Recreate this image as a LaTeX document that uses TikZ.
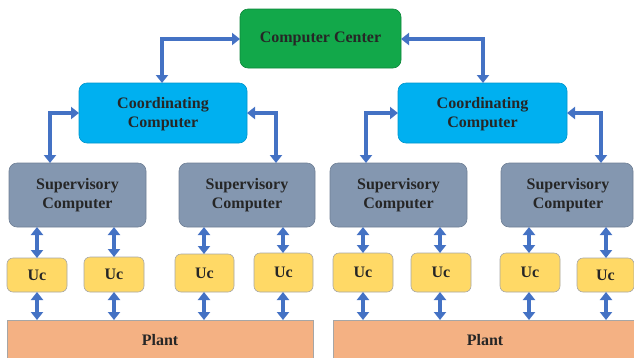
\documentclass[tikz,border=0pt]{standalone}
\usepackage{fontspec}
\setmainfont{Liberation Serif}[BoldFont={Liberation Serif Bold}]
\usetikzlibrary{arrows.meta}
\definecolor{ccgreen}{HTML}{12A84A}
\definecolor{coordblue}{HTML}{00B0F0}
\definecolor{supgray}{HTML}{8497B0}
\definecolor{ucyellow}{HTML}{FFD966}
\definecolor{plantorange}{HTML}{F4B183}
\definecolor{arrowblue}{HTML}{4472C4}
\definecolor{txt}{HTML}{262626}
\begin{document}
\begin{tikzpicture}[x=1pt,y=-1pt,
  box/.style={rounded corners=8pt, line width=0.6pt},
  lbl/.style={text=txt, font=\fontsize{16}{19.5}\selectfont\bfseries, align=center},
  link/.style={arrowblue, line width=3.6pt, {Triangle[length=8pt,width=12pt]}-{Triangle[length=8pt,width=12pt]}},
]
\useasboundingbox (0,0) rectangle (634,357);
% Computer center
\draw[box, fill=ccgreen, draw=ccgreen!80!black] (240,9) rectangle (401,68);
\node[lbl] (cc) at (320.5,39) {Computer Center};
\coordinate (ccW) at (240,39);
\coordinate (ccE) at (401,39);
% Coordinating
\draw[box, fill=coordblue, draw=coordblue!85!black] (79,83) rectangle (247,143);
\node[lbl] (co1) at (163,114) {Coordinating\\Computer};
\draw[box, fill=coordblue, draw=coordblue!85!black] (398,83) rectangle (567,143);
\node[lbl] (co2) at (482.5,114) {Coordinating\\Computer};
\coordinate (co1N) at (162,83); \coordinate (co1W) at (79,113); \coordinate (co1E) at (247,113);
\coordinate (co2N) at (483,83); \coordinate (co2W) at (398,113); \coordinate (co2E) at (567,113);
% Supervisory
\foreach \n/\a/\b in {1/9/146, 2/179/315, 3/330/467, 4/501/633} {
  \draw[box, fill=supgray, draw=supgray!85!black] (\a,163) rectangle (\b,227);
}
\node[lbl] (s1) at (77.5,195) {Supervisory\\Computer};
\node[lbl] (s2) at (247,195) {Supervisory\\Computer};
\node[lbl] (s3) at (398.5,195) {Supervisory\\Computer};
\node[lbl] (s4) at (568,195) {Supervisory\\Computer};
% Links top
\draw[link] (ccW) -| (co1N);
\draw[link] (ccE) -| (co2N);
\draw[link] (co1W) -| (50,163);
\draw[link] (co1E) -| (276,163);
\draw[link] (co2W) -| (366,163);
\draw[link] (co2E) -| (601,163);
% Uc boxes
\foreach \a/\b/\t/\c in {7/67/258/37, 84/144/257/114, 175/234/254/204, 254/313/253/283, 333/393/253/363, 411/471/253/440, 500/560/253/529, 577/634/258/606} {
  \draw[box, rounded corners=6pt, fill=ucyellow, draw=black!35] (\a,\t) rectangle (\b,292);
  \node[lbl] at ({(\a+\b)/2},{(\t+292)/2}) {Uc};
  \draw[link] (\c,227) -- (\c,\t);
  \draw[link] (\c,292) -- (\c,320);
}
% Plant
\draw[fill=plantorange, draw=black!35, line width=0.6pt] (7,320) rectangle (313,360);
\node[lbl] (p1) at (160,340) {Plant};
\draw[fill=plantorange, draw=black!35, line width=0.6pt] (333,320) rectangle (640,360);
\node[lbl] (p2) at (485,340) {Plant};
\end{tikzpicture}
\end{document}
